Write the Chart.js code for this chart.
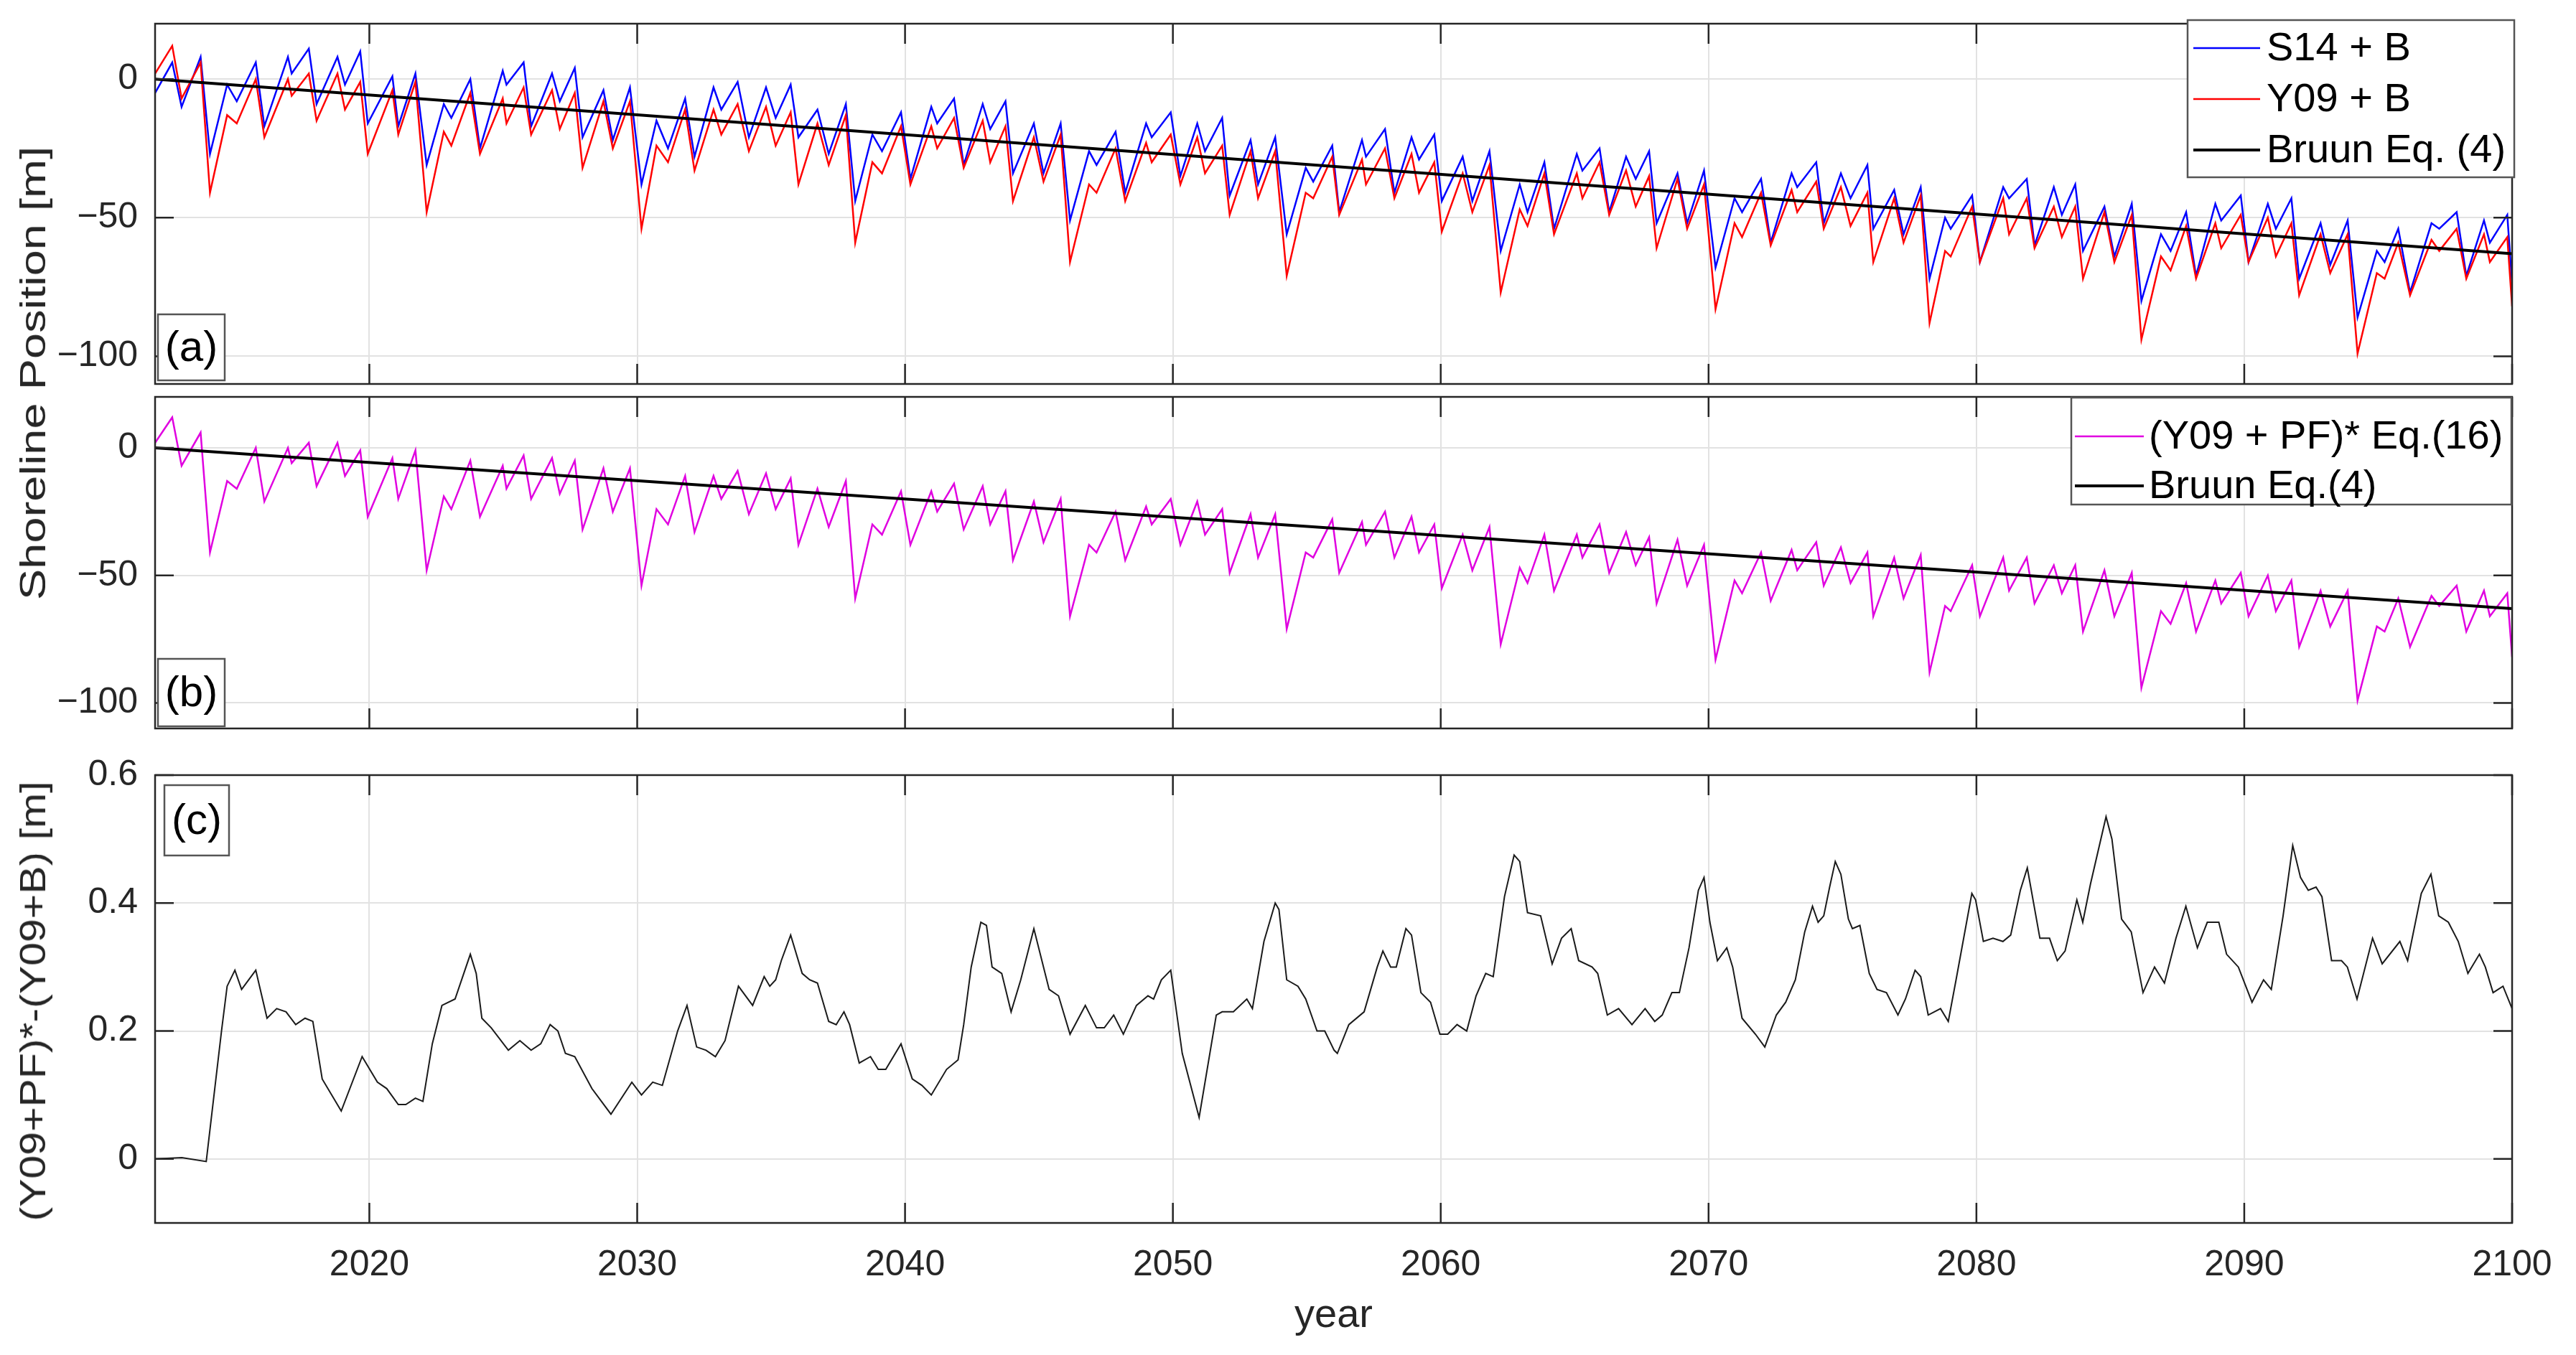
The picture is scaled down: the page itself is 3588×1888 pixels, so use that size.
<!DOCTYPE html>
<html>
<head>
<meta charset="utf-8">
<script src="https://cdn.jsdelivr.net/npm/chart.js@4.4.1/dist/chart.umd.min.js"></script>
<style>
  html, body { margin: 0; padding: 0; background: #fff; }
  body { width: 3588px; height: 1888px; position: relative; overflow: hidden; font-family: "Liberation Sans", Arial, sans-serif; }
  canvas { position: absolute; left: 0; }
  .ylab { position: absolute; white-space: nowrap; font-size: 50px; color: #262626; }
</style>
</head>
<body>
<canvas id="pa" width="3588" height="560" style="top:0"></canvas>
<canvas id="pb" width="3588" height="490" style="top:545px"></canvas>
<canvas id="pc" width="3588" height="838" style="top:1050px"></canvas>
<div class="ylab" style="left:46px; top:520px; transform: translate(-50%,-50%) rotate(-90deg) scale(1.3,1)">Shoreline Position [m]</div>
<div class="ylab" style="left:46px; top:1395px; transform: translate(-50%,-50%) rotate(-90deg) scale(1.18,1)">(Y09+PF)*-(Y09+B) [m]</div>
<script>
// shoreline position [m] (a) and (b), peaks and troughs
const years = [
  2012.00, 2012.64, 2012.99, 2013.70, 2014.05, 2014.69, 2015.05, 2015.76, 2016.08, 2016.96,
  2017.10, 2017.74, 2018.03, 2018.81, 2019.09, 2019.66, 2019.94, 2020.86, 2021.08, 2021.72,
  2022.14, 2022.78, 2023.06, 2023.77, 2024.13, 2024.98, 2025.12, 2025.76, 2026.04, 2026.82,
  2027.11, 2027.67, 2027.96, 2028.74, 2029.09, 2029.73, 2030.16, 2030.72, 2031.15, 2031.79,
  2032.14, 2032.85, 2033.14, 2033.75, 2034.17, 2034.81, 2035.17, 2035.73, 2036.02, 2036.73,
  2037.15, 2037.79, 2038.14, 2038.78, 2039.14, 2039.85, 2040.20, 2040.98, 2041.20, 2041.83,
  2042.19, 2042.90, 2043.18, 2043.75, 2044.03, 2044.81, 2045.17, 2045.81, 2046.16, 2046.87,
  2047.15, 2047.86, 2048.22, 2049.00, 2049.21, 2049.92, 2050.28, 2050.91, 2051.20, 2051.84,
  2052.12, 2052.90, 2053.18, 2053.82, 2054.25, 2054.96, 2055.24, 2055.95, 2056.21, 2057.06,
  2057.21, 2057.92, 2058.27, 2058.91, 2059.19, 2059.76, 2060.04, 2060.82, 2061.18, 2061.82,
  2062.24, 2062.95, 2063.24, 2063.87, 2064.23, 2065.08, 2065.29, 2065.93, 2066.29, 2066.92,
  2067.28, 2067.78, 2068.06, 2068.84, 2069.20, 2069.83, 2070.26, 2070.97, 2071.25, 2071.96,
  2072.32, 2073.10, 2073.31, 2074.02, 2074.30, 2074.94, 2075.30, 2075.93, 2076.15, 2076.93,
  2077.28, 2077.92, 2078.25, 2078.83, 2079.04, 2079.84, 2080.13, 2081.00, 2081.22, 2081.88,
  2082.17, 2082.89, 2083.19, 2083.69, 2083.98, 2084.78, 2085.15, 2085.80, 2086.16, 2086.89,
  2087.25, 2087.83, 2088.20, 2088.92, 2089.14, 2089.87, 2090.16, 2090.88, 2091.18, 2091.76,
  2092.05, 2092.85, 2093.21, 2093.86, 2094.23, 2094.95, 2095.24, 2095.75, 2096.19, 2096.99,
  2097.28, 2097.93, 2098.29, 2098.95, 2099.17, 2099.82, 2100.00
];
const s14B = [
  -5, 6, -10, 8, -27, -2, -8, 6, -17, 8,
  2, 11, -9, 8, -2, 10, -16, 1, -17, 2,
  -31, -9, -14, 0, -25, 3, -2, 6, -17, 2,
  -8, 4, -21, -4, -22, -3, -38, -15, -25, -7,
  -28, -3, -11, -1, -21, -3, -14, -2, -21, -11,
  -27, -9, -44, -20, -26, -12, -36, -10, -16, -7,
  -31, -9, -18, -8, -34, -16, -34, -16, -51, -26,
  -31, -19, -41, -16, -21, -12, -35, -16, -26, -14,
  -42, -22, -38, -21, -56, -32, -37, -24, -48, -22,
  -28, -18, -41, -21, -29, -20, -44, -28, -44, -26,
  -62, -38, -48, -30, -54, -27, -33, -25, -48, -28,
  -36, -26, -52, -34, -52, -33, -68, -43, -48, -36,
  -59, -34, -39, -30, -52, -34, -43, -31, -54, -40,
  -56, -39, -72, -50, -54, -42, -66, -39, -43, -36,
  -60, -39, -49, -38, -62, -46, -64, -45, -80, -56,
  -62, -48, -71, -45, -51, -42, -66, -45, -54, -43,
  -72, -52, -67, -51, -86, -62, -66, -54, -77, -52,
  -54, -48, -71, -51, -59, -49, -74
];
const y09B = [
  2, 12, -7, 6, -41, -13, -16, 0, -21, 0,
  -6, 2, -15, 2, -11, -1, -27, -4, -20, -1,
  -48, -19, -24, -5, -27, -7, -16, -3, -20, -4,
  -18, -5, -32, -8, -25, -8, -54, -24, -30, -11,
  -33, -11, -20, -9, -26, -10, -24, -12, -38, -16,
  -31, -13, -59, -30, -34, -17, -38, -17, -25, -14,
  -32, -15, -30, -17, -44, -21, -37, -20, -66, -38,
  -41, -25, -44, -23, -30, -20, -38, -21, -34, -24,
  -49, -26, -43, -26, -71, -41, -43, -28, -49, -29,
  -38, -25, -43, -27, -41, -30, -55, -34, -48, -31,
  -77, -47, -53, -34, -56, -34, -43, -30, -49, -33,
  -46, -35, -61, -36, -54, -38, -83, -52, -57, -41,
  -60, -40, -48, -37, -54, -39, -53, -41, -66, -43,
  -59, -42, -88, -62, -64, -46, -66, -43, -56, -43,
  -61, -46, -57, -46, -72, -48, -66, -49, -94, -64,
  -69, -53, -72, -52, -61, -49, -66, -50, -64, -52,
  -78, -56, -70, -56, -99, -70, -72, -59, -78, -58,
  -62, -54, -72, -56, -66, -57, -82
];
// (Y09 + PF)* in panel (b) lies on Y09 + B to within a pixel, so it uses y09B
const bruunYears = [2012, 2100];
const bruun = [0, -63];

// panel (c): (Y09+PF)* - (Y09+B) [m]
const diffYears = [
  2012.00, 2013.00, 2013.91, 2014.48, 2014.69, 2014.98, 2015.23, 2015.76, 2015.90, 2016.18,
  2016.54, 2016.89, 2017.25, 2017.60, 2017.89, 2018.24, 2018.95, 2019.73, 2020.30, 2020.65,
  2021.08, 2021.36, 2021.72, 2022.00, 2022.35, 2022.71, 2023.20, 2023.77, 2023.99, 2024.20,
  2024.55, 2025.19, 2025.62, 2026.04, 2026.40, 2026.75, 2027.04, 2027.32, 2027.67, 2028.31,
  2029.02, 2029.80, 2030.16, 2030.58, 2030.94, 2031.51, 2031.86, 2032.22, 2032.57, 2032.92,
  2033.28, 2033.78, 2034.31, 2034.74, 2034.95, 2035.17, 2035.38, 2035.73, 2036.16, 2036.44,
  2036.73, 2037.15, 2037.43, 2037.72, 2037.93, 2038.29, 2038.71, 2039.00, 2039.28, 2039.85,
  2040.27, 2040.63, 2040.98, 2041.55, 2041.98, 2042.19, 2042.47, 2042.83, 2043.04, 2043.25,
  2043.61, 2043.96, 2044.32, 2044.81, 2045.17, 2045.38, 2045.73, 2046.16, 2046.73, 2047.15,
  2047.44, 2047.79, 2048.15, 2048.64, 2049.07, 2049.28, 2049.57, 2049.92, 2050.35, 2050.98,
  2051.62, 2051.84, 2052.26, 2052.76, 2052.97, 2053.40, 2053.82, 2053.96, 2054.25, 2054.67,
  2054.96, 2055.38, 2055.67, 2056.02, 2056.14, 2056.57, 2057.14, 2057.63, 2057.84, 2058.13,
  2058.34, 2058.70, 2058.91, 2059.26, 2059.62, 2059.97, 2060.26, 2060.61, 2060.97, 2061.32,
  2061.68, 2061.96, 2062.38, 2062.74, 2062.95, 2063.24, 2063.73, 2064.16, 2064.51, 2064.87,
  2065.15, 2065.65, 2065.86, 2066.22, 2066.64, 2067.14, 2067.63, 2067.99, 2068.27, 2068.63,
  2068.91, 2069.27, 2069.62, 2069.83, 2070.05, 2070.33, 2070.68, 2070.90, 2071.25, 2071.75,
  2072.10, 2072.53, 2072.88, 2073.24, 2073.59, 2073.88, 2074.09, 2074.30, 2074.52, 2074.73,
  2074.94, 2075.22, 2075.37, 2075.65, 2076.00, 2076.29, 2076.64, 2077.07, 2077.35, 2077.71,
  2077.92, 2078.20, 2078.66, 2078.95, 2079.24, 2079.83, 2079.97, 2080.26, 2080.62, 2080.99,
  2081.28, 2081.64, 2081.90, 2082.37, 2082.73, 2083.02, 2083.31, 2083.75, 2083.97, 2084.26,
  2084.84, 2085.06, 2085.42, 2085.78, 2086.22, 2086.65, 2087.02, 2087.45, 2087.82, 2088.25,
  2088.62, 2089.05, 2089.34, 2089.78, 2090.29, 2090.72, 2091.01, 2091.45, 2091.81, 2092.10,
  2092.39, 2092.68, 2092.90, 2093.26, 2093.63, 2093.85, 2094.21, 2094.79, 2095.15, 2095.81,
  2096.10, 2096.61, 2096.97, 2097.26, 2097.62, 2097.99, 2098.35, 2098.78, 2099.00, 2099.29,
  2099.66, 2100.00
];
const diffPF = [
  0, 0.002, -0.004, 0.2, 0.27, 0.295, 0.265, 0.295, 0.27, 0.22,
  0.235, 0.23, 0.21, 0.22, 0.215, 0.125, 0.075, 0.16, 0.12, 0.11,
  0.085, 0.085, 0.095, 0.09, 0.18, 0.24, 0.25, 0.32, 0.29, 0.22,
  0.205, 0.17, 0.185, 0.17, 0.18, 0.21, 0.2, 0.165, 0.16, 0.11,
  0.07, 0.12, 0.1, 0.12, 0.115, 0.2, 0.24, 0.175, 0.17, 0.16,
  0.185, 0.27, 0.24, 0.285, 0.27, 0.28, 0.31, 0.35, 0.29, 0.28,
  0.275, 0.215, 0.21, 0.23, 0.21, 0.15, 0.16, 0.14, 0.14, 0.18,
  0.125, 0.115, 0.1, 0.14, 0.155, 0.21, 0.3, 0.37, 0.365, 0.3,
  0.29, 0.23, 0.28, 0.36, 0.3, 0.265, 0.255, 0.195, 0.24, 0.205,
  0.205, 0.225, 0.195, 0.24, 0.255, 0.25, 0.28, 0.295, 0.165, 0.065,
  0.225, 0.23, 0.23, 0.25, 0.235, 0.34, 0.4, 0.39, 0.28, 0.27,
  0.25, 0.2, 0.2, 0.17, 0.165, 0.21, 0.23, 0.3, 0.325, 0.3,
  0.3, 0.36, 0.35, 0.26, 0.245, 0.195, 0.195, 0.21, 0.2, 0.255,
  0.29, 0.285, 0.41, 0.475, 0.465, 0.385, 0.38, 0.305, 0.345, 0.36,
  0.31, 0.3, 0.29, 0.225, 0.235, 0.21, 0.235, 0.215, 0.225, 0.26,
  0.26, 0.33, 0.42, 0.44, 0.37, 0.31, 0.33, 0.3, 0.22, 0.195,
  0.175, 0.225, 0.245, 0.28, 0.355, 0.395, 0.37, 0.38, 0.425, 0.465,
  0.445, 0.375, 0.36, 0.365, 0.29, 0.265, 0.26, 0.225, 0.25, 0.295,
  0.285, 0.225, 0.235, 0.215, 0.28, 0.415, 0.405, 0.34, 0.345, 0.34,
  0.35, 0.42, 0.455, 0.345, 0.345, 0.31, 0.325, 0.405, 0.37, 0.43,
  0.535, 0.5, 0.375, 0.355, 0.26, 0.3, 0.275, 0.345, 0.395, 0.33,
  0.37, 0.37, 0.32, 0.3, 0.245, 0.28, 0.265, 0.38, 0.49, 0.44,
  0.42, 0.425, 0.41, 0.31, 0.31, 0.3, 0.25, 0.345, 0.305, 0.34,
  0.31, 0.415, 0.445, 0.38, 0.37, 0.34, 0.29, 0.32, 0.3, 0.26,
  0.27, 0.235
];

const yearTicks = [2020, 2030, 2040, 2050, 2060, 2070, 2080, 2090, 2100];
const shoreTicks = [-100, -50, 0];
const diffTicks = [0, 0.2, 0.4, 0.6];

const FONT = '"Liberation Sans", Arial, sans-serif';
const INK = '#262626';

function xy(xs, ys) {
  return xs.map((x, i) => ({ x: x, y: ys[i] }));
}

// MATLAB-like box: frame, inward ticks on all sides, panel tag, legend
const frame = {
  id: 'frame',
  afterDraw(chart, args, o) {
    const { ctx, chartArea: a, scales: { x, y } } = chart;
    ctx.save();
    ctx.strokeStyle = INK;
    ctx.lineWidth = 2.5;
    ctx.beginPath();
    x.ticks.forEach(t => {
      const px = x.getPixelForValue(t.value);
      ctx.moveTo(px, a.bottom); ctx.lineTo(px, a.bottom - 28);
      ctx.moveTo(px, a.top); ctx.lineTo(px, a.top + 28);
    });
    y.ticks.forEach(t => {
      const py = y.getPixelForValue(t.value);
      ctx.moveTo(a.left, py); ctx.lineTo(a.left + 26, py);
      ctx.moveTo(a.right, py); ctx.lineTo(a.right - 26, py);
    });
    ctx.stroke();
    ctx.strokeRect(a.left, a.top, a.right - a.left, a.bottom - a.top);

    if (o.tag) {
      const T = o.tag;
      const bx = a.left + T.dx, by = T.fromTop ? a.top + T.dy : a.bottom + T.dy;
      ctx.fillStyle = '#fff';
      ctx.fillRect(bx, by, T.w, T.h);
      ctx.strokeStyle = '#555';
      ctx.lineWidth = 2.5;
      ctx.strokeRect(bx, by, T.w, T.h);
      ctx.fillStyle = '#000';
      ctx.font = '60px ' + FONT;
      ctx.textAlign = 'center';
      ctx.textBaseline = 'middle';
      ctx.fillText(T.text, bx + T.w / 2, by + T.h / 2 + 2);
    }

    if (o.legend) {
      const L = o.legend;
      const bx = a.right + L.dx, by = a.top + L.dy;
      ctx.fillStyle = '#fff';
      ctx.fillRect(bx, by, L.w, L.h);
      ctx.strokeStyle = '#555';
      ctx.lineWidth = 2.5;
      ctx.strokeRect(bx, by, L.w, L.h);
      ctx.font = '56px ' + FONT;
      ctx.textAlign = 'left';
      ctx.textBaseline = 'middle';
      L.items.forEach((di, i) => {
        const ds = chart.data.datasets[di];
        const yy = by + L.first + i * L.gap;
        ctx.strokeStyle = ds.borderColor;
        ctx.lineWidth = ds.borderWidth;
        ctx.beginPath();
        ctx.moveTo(bx + L.l0, yy);
        ctx.lineTo(bx + L.l1, yy);
        ctx.stroke();
        ctx.fillStyle = '#000';
        ctx.fillText(ds.label, bx + L.tx, yy + 2);
      });
    }
    ctx.restore();
  }
};

function panel(id, datasets, cfg) {
  return new Chart(document.getElementById(id), {
    type: 'line',
    data: { datasets: datasets },
    options: {
      responsive: false,
      animation: false,
      devicePixelRatio: 1,
      layout: { autoPadding: false, padding: { left: 0, right: 89, top: cfg.top, bottom: cfg.bottom } },
      elements: { point: { radius: 0 }, line: { tension: 0 } },
      plugins: {
        legend: { display: false },
        tooltip: { enabled: false },
        frame: { tag: cfg.tag, legend: cfg.legend }
      },
      scales: {
        x: {
          type: 'linear',
          min: 2012,
          max: 2100,
          afterBuildTicks: s => { s.ticks = yearTicks.map(v => ({ value: v })); },
          afterFit: s => { s.height = cfg.xHeight; s.paddingLeft = 0; s.paddingRight = 0; },
          grid: { color: '#e2e2e2', lineWidth: 2, drawTicks: false },
          border: { display: false },
          ticks: {
            display: cfg.xLabels,
            autoSkip: false,
            maxRotation: 0,
            padding: 29,
            color: INK,
            font: { family: FONT, size: 50 },
            callback: v => String(v)
          },
          title: {
            display: cfg.xLabels,
            text: 'year',
            color: INK,
            font: { family: FONT, size: 56 },
            padding: { top: 0, bottom: 21 }
          }
        },
        y: {
          type: 'linear',
          min: cfg.ymin,
          max: cfg.ymax,
          afterBuildTicks: s => { s.ticks = cfg.yticks.map(v => ({ value: v })); },
          afterFit: s => { s.width = 216; s.paddingTop = 0; s.paddingBottom = 0; },
          grid: { color: '#e2e2e2', lineWidth: 2, drawTicks: false },
          border: { display: false },
          ticks: {
            padding: 24,
            color: INK,
            font: { family: FONT, size: 50 },
            callback: cfg.yfmt
          }
        }
      }
    },
    plugins: [frame]
  });
}

const shoreFmt = v => (v < 0 ? '\u2212' + Math.abs(v) : String(v));

panel('pa', [
  { label: 'S14 + B', data: xy(years, s14B), borderColor: '#0000ff', borderWidth: 2.5, order: 3 },
  { label: 'Y09 + B', data: xy(years, y09B), borderColor: '#ff0000', borderWidth: 2.5, order: 2 },
  { label: 'Bruun Eq. (4)', data: xy(bruunYears, bruun), borderColor: '#000000', borderWidth: 4, order: 1 }
], {
  top: 33, bottom: 25, xHeight: 0, xLabels: false,
  ymin: -110, ymax: 20, yticks: shoreTicks, yfmt: shoreFmt,
  tag: { text: '(a)', dx: 4, dy: -97, w: 93, h: 92 },
  legend: { dx: -452, dy: -5, w: 455, h: 219, first: 39, gap: 71, l0: 8, l1: 101, tx: 110, items: [0, 1, 2] }
});

panel('pb', [
  { label: '(Y09 + PF)* Eq.(16)', data: xy(years, y09B), borderColor: '#e000e0', borderWidth: 2.5, order: 2 },
  { label: 'Bruun Eq.(4)', data: xy(bruunYears, bruun), borderColor: '#000000', borderWidth: 4, order: 1 }
], {
  top: 8, bottom: 20, xHeight: 0, xLabels: false,
  ymin: -110, ymax: 20, yticks: shoreTicks, yfmt: shoreFmt,
  tag: { text: '(b)', dx: 4, dy: -97, w: 93, h: 94 },
  legend: { dx: -614, dy: 1, w: 613, h: 149, first: 54, gap: 69, l0: 5, l1: 101, tx: 108, items: [0, 1] }
});

panel('pc', [
  { label: '(Y09+PF)*-(Y09+B)', data: xy(diffYears, diffPF), borderColor: '#1a1a1a', borderWidth: 2 }
], {
  top: 30, bottom: 0, xHeight: 184, xLabels: true,
  ymin: -0.1, ymax: 0.6, yticks: diffTicks, yfmt: v => (v === 0 ? '0' : v.toFixed(1)),
  tag: { text: '(c)', dx: 13, dy: 14, w: 90, h: 98, fromTop: true }
});
</script>
</body>
</html>
